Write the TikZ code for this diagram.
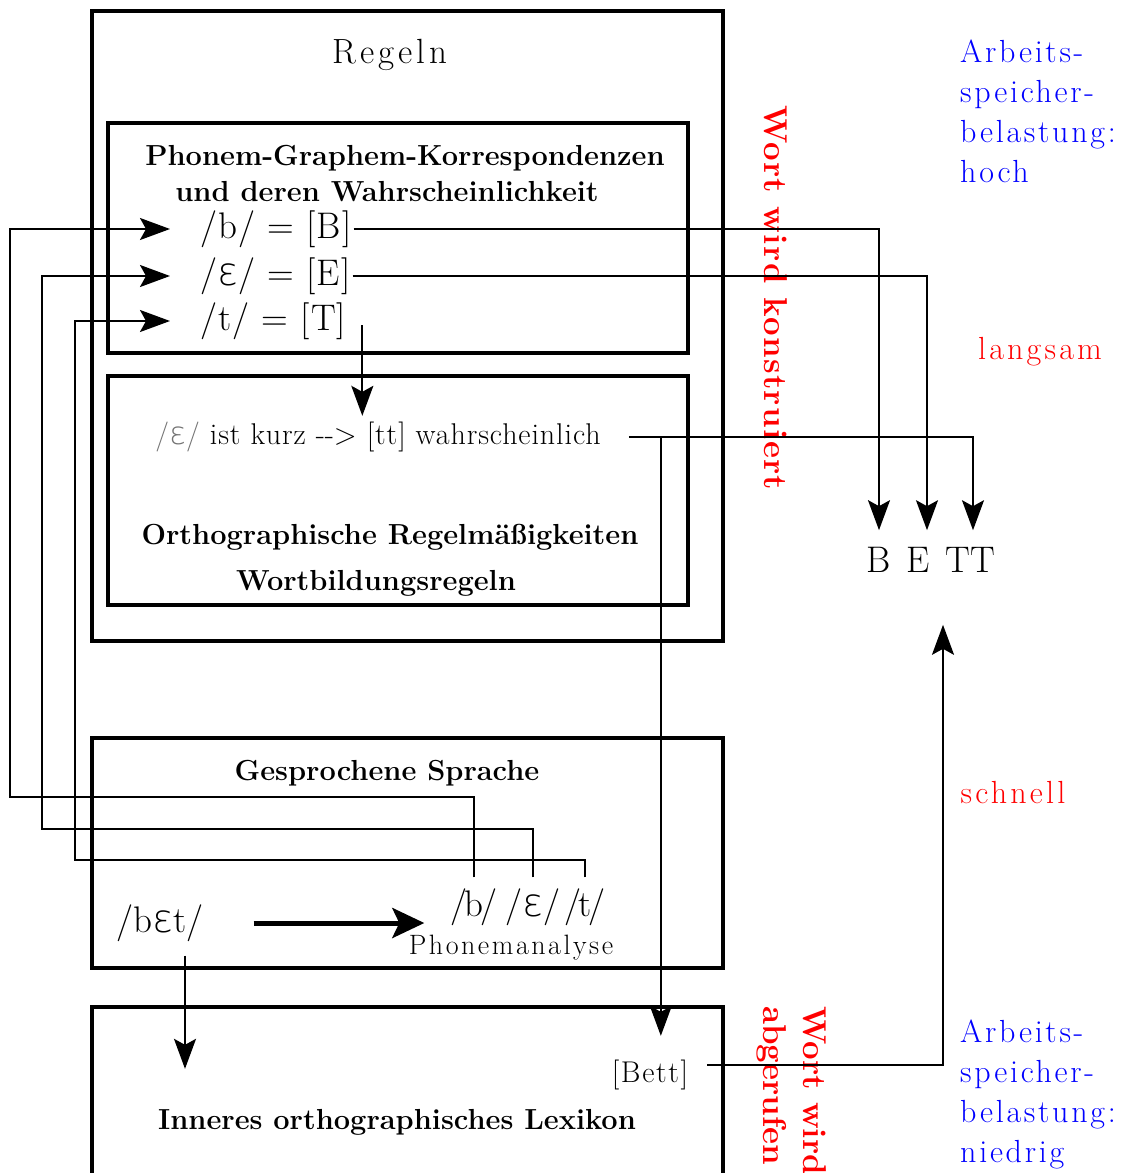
\documentclass[tikz,border=0pt]{standalone}
\usepackage{fontspec}
\setmainfont{Latin Modern Roman}
\newfontfamily\ipafont{DejaVu Sans ExtraLight}[Scale=1.05]
\usetikzlibrary{arrows.meta}
\newcommand\ep{{\ipafont ɛ}}
\newcommand\fs[1]{\fontsize{#1}{#1}\selectfont}
\newcommand\lsp[1]{\addfontfeatures{LetterSpace=#1}}
\begin{document}
\begin{tikzpicture}[x=1pt,y=1pt,
  box/.style={draw, line width=3.2pt, inner sep=0pt},
  txt/.style={inner sep=2pt, font=\fs{37}\lsp{3}},
  hd/.style={inner sep=2pt, font=\fs{29}\bfseries},
  conn/.style={line width=2pt},
  arr/.style={conn, -{Stealth[length=30pt,width=22pt,inset=6pt]}},
  bigarr/.style={line width=5pt, -{Stealth[length=32pt,width=30pt,inset=7pt]}},
  redlab/.style={text=red, inner sep=2pt, font=\fs{33}\bfseries\lsp{4}},
  redtxt/.style={text=red, inner sep=2pt, font=\fs{32}\lsp{10}},
  bluetxt/.style={text=blue, inner sep=0pt, align=left, font=\fontsize{32}{40}\selectfont\lsp{8.5}}]
\useasboundingbox (0,0) rectangle (1125,-1173);
% boxes
\node[box, minimum width=631pt, minimum height=630pt] (rules) at (407.5,-326) {};
\node[box, minimum width=580pt, minimum height=230pt] (pgbox) at (398,-238) {};
\node[box, minimum width=580pt, minimum height=229pt] (orbox) at (398,-490.5) {};
\node[box, minimum width=631pt, minimum height=230pt] (gsbox) at (407.5,-853) {};
\node[box, minimum width=631pt, minimum height=168pt] (lxbox) at (407.5,-1091) {};
% texts
\node[txt, font=\fs{35}\lsp{11}] (regeln) at (390,-55) {Regeln};
\node[hd] (pgt1) at (405,-158) {Phonem-Graphem-Korrespondenzen};
\node[hd] (pgt2) at (387,-192) {und deren Wahrscheinlichkeit};
\node[txt, anchor=west] (bq) at (198,-229) {/b/ = [B]};
\node[txt, anchor=west] (eq) at (198,-276) {/\ep/ = [E]};
\node[txt, anchor=west] (tq) at (198,-321) {/t/ = [T]};
\node[txt, font=\fs{30}\lsp{3}] (kurz) at (378,-437) {{\color{black!55}/\ep/} ist kurz \mbox{-}\mbox{-}\mbox{>} [tt] wahrscheinlich};
\node[hd] (or1) at (390,-537) {Orthographische Regelmäßigkeiten};
\node[hd] (or2) at (376,-583) {Wortbildungsregeln};
\node[hd] (gst) at (387,-773) {Gesprochene Sprache};
\node[txt, font=\fs{37}\lsp{-8}] (p1) at (474,-907) {/b/};
\node[txt, font=\fs{37}\lsp{-14}] (p2) at (533,-907) {/\ep/};
\node[txt, font=\fs{37}\lsp{-8}] (p3) at (585,-907) {/t/};
\node[txt, font=\fs{28}\lsp{9}] (phan) at (511,-948) {Phonemanalyse};
\node[txt, font=\fs{37}] (bet) at (160,-923) {/b\ep t/};
\node[txt, font=\fs{30}\lsp{5.5}] (bett) at (650,-1075) {[Bett]};
\node[hd] (lexn) at (397,-1122) {Inneres orthographisches Lexikon};
\node[txt, font=\fs{37}] (nB) at (879,-560) {B};
\node[txt, font=\fs{37}] (nE) at (918,-560) {E};
\node[txt, font=\fs{37}] (nT) at (970,-560) {TT};
\node[redlab, rotate=-90] (konst) at (776,-298) {Wort wird konstruiert};
\node[redlab, rotate=-90, anchor=north west, align=left, font=\fontsize{33}{40}\selectfont\bfseries] (abg) at (829,-1004) {Wort wird\\abgerufen};
\node[redtxt] (langsam) at (1040,-352) {langsam};
\node[redtxt] (schnell) at (1013,-793) {schnell};
\node[bluetxt, anchor=north west] (ah) at (960,-40) {Arbeits-\\speicher-\\belastung:\\hoch};
\node[bluetxt, anchor=north west] (an) at (960,-1020) {Arbeits-\\speicher-\\belastung:\\niedrig};
% connectors: spoken phonemes back to correspondences
\draw[arr, shorten >=28pt] ([yshift=9pt]p1.north) |- (10,-797) |- (bq.west);
\draw[arr, shorten >=28pt] ([yshift=9pt]p2.north) |- (42,-829) |- (eq.west);
\draw[arr, shorten >=28pt] ([yshift=9pt]p3.north) |- (75,-860) |- (tq.west);
% correspondences to the constructed word
\draw[arr, shorten >=15pt] (bq.east) -| (nB.north);
\draw[arr, shorten >=15pt] (eq.east) -| ([xshift=9pt]nE.north);
\draw[arr, shorten <=26pt, shorten >=15pt] (kurz.east) -| ([xshift=3pt]nT.north);
\coordinate (ts) at ([xshift=14pt,yshift=-4pt]tq.east);
\draw[arr, shorten >=4pt] (ts) -- (ts |- kurz.north);
\coordinate (j) at ([xshift=58pt]kurz.east);
\draw[arr, shorten >=22pt] (j) -- (j |- bett.north);
% spoken language
\draw[bigarr, shorten <=48pt, shorten >=24pt] (bet.east) -- (bet.east -| p1.west);
\coordinate (bs) at ([xshift=25pt]bet.south);
\draw[arr, shorten <=12pt, shorten >=38pt] (bs) -- (bs |- lexn.north);
% lexicon to word
\draw[arr, shorten <=17pt, shorten >=50pt] ([yshift=10pt]bett.east) -| ([xshift=25pt]nE.south);
\end{tikzpicture}
\end{document}
